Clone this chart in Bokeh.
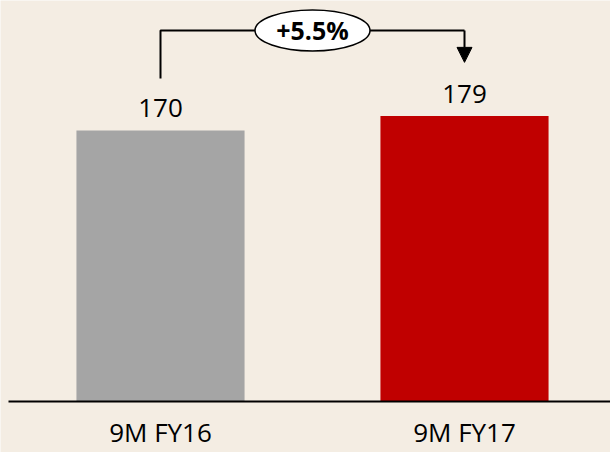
from bokeh.plotting import figure
from bokeh.models import Range1d, ColumnDataSource, Arrow, NormalHead
from bokeh.core.properties import value
from bokeh.embed import file_html
from bokeh.resources import INLINE

# ---- data ----
categories = ["9M FY16", "9M FY17"]
values = [170, 179]
value_labels = ["170", "179"]
bar_colors = ["#A5A5A5", "#C00000"]
growth_label = "+5.5%"

BG = "#F4EDE3"
FONT = "Open Sans"

xs = [i + 0.5 for i in range(len(categories))]

p = figure(width=610, height=452, output_backend="svg", toolbar_location=None,
           x_range=Range1d(-8 / 304, 602 / 304), y_range=Range1d(-32.0, 251.5),
           min_border=0, min_border_left=0, min_border_right=0,
           min_border_top=0, min_border_bottom=0)
p.background_fill_color = BG
p.border_fill_color = BG
p.outline_line_color = None
p.axis.visible = False
p.grid.visible = False

src = ColumnDataSource(dict(x=xs, top=values, color=bar_colors,
                            vlab=value_labels, cat=categories,
                            zero=[0] * len(xs)))

p.vbar(x="x", top="top", bottom=0, width=0.553, fill_color="color",
       line_color=None, source=src)

# baseline
p.segment(x0=[0], y0=[0], x1=[len(categories)], y1=[0], line_color="black", line_width=2)

# value labels
p.text(x="x", y="top", text="vlab", source=src, text_font=value(FONT),
       text_font_size="26px", text_align="center", text_baseline="alphabetic",
       y_offset=-22, text_color="black")

# category labels
p.text(x="x", y="zero", text="cat", source=src, text_font=value(FONT),
       text_font_size="26px", text_align="center", text_baseline="alphabetic",
       y_offset=31, text_color="black")

# growth bracket
y_start = values[0] + 32.6
y_top = max(values) * 1.3
y_tip = values[1] + 33.7
p.line(x=[xs[0], xs[0], xs[1]], y=[y_start, y_top, y_top], line_color="black", line_width=2)
p.add_layout(Arrow(x_start=xs[1], y_start=y_top, x_end=xs[1], y_end=y_tip,
                   line_color="black", line_width=2,
                   end=NormalHead(size=15, fill_color="black", line_color="black")))

xm = (xs[0] + xs[1]) / 2
p.ellipse(x=[xm], y=[y_top], width=115, height=41, width_units="screen",
          height_units="screen", fill_color="white", line_color="black", line_width=1.5)
p.text(x=[xm], y=[y_top], text=[growth_label], text_font=value(FONT),
       text_font_size="25px", text_font_style="bold", text_align="center",
       text_baseline="middle", text_color="black")

open("out.html", "w").write(file_html(p, INLINE))
